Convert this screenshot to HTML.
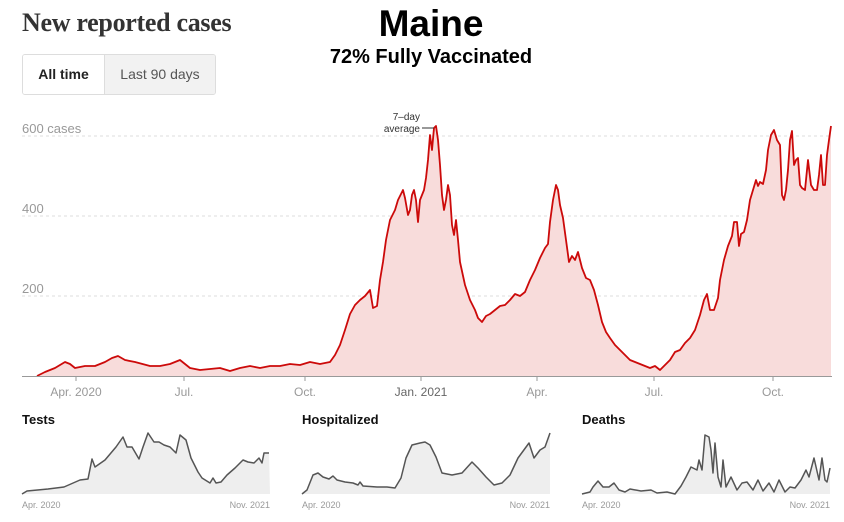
<!DOCTYPE html>
<html><head><meta charset="utf-8"><style>
body{margin:0;width:844px;height:522px;background:#fff;overflow:hidden;position:relative;font-family:"Liberation Sans",sans-serif}
.a{position:absolute;white-space:nowrap}
</style></head><body>
<div class="a" style="left:22px;top:8px;font:bold 26px 'Liberation Serif',serif;color:#333;letter-spacing:-0.3px">New reported cases</div>
<div class="a" style="left:331px;top:3px;width:200px;text-align:center;font:bold 37px 'Liberation Sans',sans-serif;color:#000">Maine</div>
<div class="a" style="left:281px;top:46px;width:300px;text-align:center;font:bold 20px 'Liberation Sans',sans-serif;color:#000">72% Fully Vaccinated</div>
<div class="a" style="left:22px;top:54px;width:192px;height:39px;border:1px solid #ddd;border-radius:3px;overflow:hidden">
<div class="a" style="left:0;top:0;width:81px;height:39px;background:#fff;border-right:1px solid #ddd;font:bold 14px 'Liberation Sans';line-height:39px;text-align:center;color:#222">All time</div>
<div class="a" style="left:82px;top:0;width:110px;height:39px;background:#f2f2f2;font:14px 'Liberation Sans';line-height:39px;text-align:center;color:#555">Last 90 days</div>
</div>
<svg class="a" style="left:0;top:0" width="844" height="522">
<g stroke="#ddd" stroke-dasharray="3,3" stroke-width="1">
<line x1="22" y1="136" x2="832" y2="136"/><line x1="22" y1="216" x2="832" y2="216"/><line x1="22" y1="296" x2="832" y2="296"/>
</g>
<g font-family="Liberation Sans" font-size="13" fill="#999">
<text x="22" y="133">600 cases</text><text x="22" y="213">400</text><text x="22" y="293">200</text>
</g>
<polygon fill="#f8dcdb" points="37,376 45,372 55,368 65,362 70,364 75,368 85,366 95,366 105,362 112,358 118,356 125,360 135,362 150,366 160,366 170,364 180,360 190,368 200,370 210,369 220,368 230,371 240,368 250,366 260,368 270,366 280,366 290,364 300,365 310,362 320,364 330,362 335,355 340,345 345,330 350,314 355,305 360,300 365,296 370,290 373,308 377,306 380,280 383,262 386,240 390,220 395,210 398,200 400,196 403,190 405,198 408,215 410,210 412,195 414,190 416,200 418,222 420,200 424,190 426,178 428,160 430,135 432,150 434,128 436,126 438,140 440,165 442,195 444,210 446,200 448,185 450,195 452,225 454,235 456,220 458,240 460,262 465,285 470,300 475,310 478,318 482,322 486,316 490,314 495,310 500,306 505,305 510,300 515,294 520,296 525,292 530,280 535,270 540,258 545,248 548,244 550,222 553,200 556,185 558,190 560,205 563,218 566,240 569,262 572,256 575,260 578,252 582,268 586,278 590,280 594,290 598,305 602,322 606,332 610,338 615,345 620,350 625,355 630,360 635,362 640,364 645,366 650,368 655,366 660,370 665,365 670,360 675,352 680,350 685,343 690,338 695,330 700,315 704,300 707,294 710,310 714,310 718,298 720,280 724,260 728,246 732,236 734,222 737,222 739,246 741,234 744,232 747,220 750,200 753,190 756,180 758,186 760,182 763,184 766,170 768,150 771,135 774,130 777,140 780,145 782,195 784,200 786,190 788,170 790,140 792,131 794,165 796,160 798,158 800,185 802,188 805,190 808,160 811,185 814,190 817,190 819,175 821,155 823,185 825,185 827,155 829,140 831,126 831,376"/>
<polyline fill="none" stroke="#cc0a0a" stroke-width="1.8" stroke-linejoin="round" points="37,376 45,372 55,368 65,362 70,364 75,368 85,366 95,366 105,362 112,358 118,356 125,360 135,362 150,366 160,366 170,364 180,360 190,368 200,370 210,369 220,368 230,371 240,368 250,366 260,368 270,366 280,366 290,364 300,365 310,362 320,364 330,362 335,355 340,345 345,330 350,314 355,305 360,300 365,296 370,290 373,308 377,306 380,280 383,262 386,240 390,220 395,210 398,200 400,196 403,190 405,198 408,215 410,210 412,195 414,190 416,200 418,222 420,200 424,190 426,178 428,160 430,135 432,150 434,128 436,126 438,140 440,165 442,195 444,210 446,200 448,185 450,195 452,225 454,235 456,220 458,240 460,262 465,285 470,300 475,310 478,318 482,322 486,316 490,314 495,310 500,306 505,305 510,300 515,294 520,296 525,292 530,280 535,270 540,258 545,248 548,244 550,222 553,200 556,185 558,190 560,205 563,218 566,240 569,262 572,256 575,260 578,252 582,268 586,278 590,280 594,290 598,305 602,322 606,332 610,338 615,345 620,350 625,355 630,360 635,362 640,364 645,366 650,368 655,366 660,370 665,365 670,360 675,352 680,350 685,343 690,338 695,330 700,315 704,300 707,294 710,310 714,310 718,298 720,280 724,260 728,246 732,236 734,222 737,222 739,246 741,234 744,232 747,220 750,200 753,190 756,180 758,186 760,182 763,184 766,170 768,150 771,135 774,130 777,140 780,145 782,195 784,200 786,190 788,170 790,140 792,131 794,165 796,160 798,158 800,185 802,188 805,190 808,160 811,185 814,190 817,190 819,175 821,155 823,185 825,185 827,155 829,140 831,126"/>
<line x1="22" y1="376.5" x2="832" y2="376.5" stroke="#999" stroke-width="1"/>
<g stroke="#999"><line x1="76" y1="376" x2="76" y2="381"/><line x1="184" y1="376" x2="184" y2="381"/><line x1="305" y1="376" x2="305" y2="381"/><line x1="421" y1="376" x2="421" y2="381"/><line x1="537" y1="376" x2="537" y2="381"/><line x1="654" y1="376" x2="654" y2="381"/><line x1="773" y1="376" x2="773" y2="381"/></g>
<g font-family="Liberation Sans" font-size="12" fill="#999" text-anchor="middle">
<text x="76" y="396">Apr. 2020</text><text x="184" y="396">Jul.</text><text x="305" y="396">Oct.</text><text x="421" y="396" fill="#666">Jan. 2021</text><text x="537" y="396">Apr.</text><text x="654" y="396">Jul.</text><text x="773" y="396">Oct.</text>
</g>
<g font-family="Liberation Sans" font-size="10" fill="#333" text-anchor="end">
<text x="420" y="120">7–day</text><text x="420" y="132">average</text>
</g>
<line x1="422" y1="128" x2="434" y2="128" stroke="#333" stroke-width="1"/>
<g font-family="Liberation Sans" font-weight="bold" font-size="13" fill="#111">
<text x="22" y="424">Tests</text><text x="302" y="424">Hospitalized</text><text x="582" y="424">Deaths</text>
</g>
<g fill="#eee" stroke="none">
<polygon points="22,494 27,491 48,489 64,487 80,480 88,479 92,459 95,467 105,460 116,447 123,437 127,447 132,447 139,459 143,447 148,433 154,442 159,442 164,445 170,447 176,453 180,435 186,440 191,458 198,472 202,478 210,483 213,478 216,483 221,482 227,475 235,468 243,460 248,462 254,463 259,458 262,463 264,453 269,453 270,494"/>
<polygon points="302,494 307,490 313,475 318,473 323,477 329,479 333,476 337,480 345,482 353,483 358,485 360,482 363,486 377,487 387,487 395,488 401,478 406,458 412,445 420,443 425,442 430,445 436,457 442,473 452,475 462,473 472,462 478,468 486,477 494,485 502,483 510,475 518,458 529,443 534,458 540,450 545,447 550,433 550,494"/>
<polygon points="582,494 590,492 593,487 598,481 603,487 609,487 614,483 619,490 625,492 630,489 641,491 651,490 657,493 667,492 675,494 681,486 686,477 691,467 697,470 699,460 702,470 705,435 709,437 711,450 713,473 715,443 718,477 721,487 723,460 726,487 731,477 737,490 742,483 747,482 753,490 758,480 763,491 769,483 774,492 779,480 785,492 790,487 795,488 801,480 806,470 809,477 814,458 819,480 822,458 825,480 827,482 830,468 830,494"/>
</g>
<g fill="none" stroke="#555" stroke-width="1.5" stroke-linejoin="round">
<polyline points="22,494 27,491 48,489 64,487 80,480 88,479 92,459 95,467 105,460 116,447 123,437 127,447 132,447 139,459 143,447 148,433 154,442 159,442 164,445 170,447 176,453 180,435 186,440 191,458 198,472 202,478 210,483 213,478 216,483 221,482 227,475 235,468 243,460 248,462 254,463 259,458 262,463 264,453 269,453"/>
<polyline points="302,494 307,490 313,475 318,473 323,477 329,479 333,476 337,480 345,482 353,483 358,485 360,482 363,486 377,487 387,487 395,488 401,478 406,458 412,445 420,443 425,442 430,445 436,457 442,473 452,475 462,473 472,462 478,468 486,477 494,485 502,483 510,475 518,458 529,443 534,458 540,450 545,447 550,433"/>
<polyline points="582,494 590,492 593,487 598,481 603,487 609,487 614,483 619,490 625,492 630,489 641,491 651,490 657,493 667,492 675,494 681,486 686,477 691,467 697,470 699,460 702,470 705,435 709,437 711,450 713,473 715,443 718,477 721,487 723,460 726,487 731,477 737,490 742,483 747,482 753,490 758,480 763,491 769,483 774,492 779,480 785,492 790,487 795,488 801,480 806,470 809,477 814,458 819,480 822,458 825,480 827,482 830,468"/>
</g>
<g font-family="Liberation Sans" font-size="9" fill="#999">
<text x="22" y="508">Apr. 2020</text><text x="270" y="508" text-anchor="end">Nov. 2021</text>
<text x="302" y="508">Apr. 2020</text><text x="550" y="508" text-anchor="end">Nov. 2021</text>
<text x="582" y="508">Apr. 2020</text><text x="830" y="508" text-anchor="end">Nov. 2021</text>
</g>
</svg>
</body></html>
